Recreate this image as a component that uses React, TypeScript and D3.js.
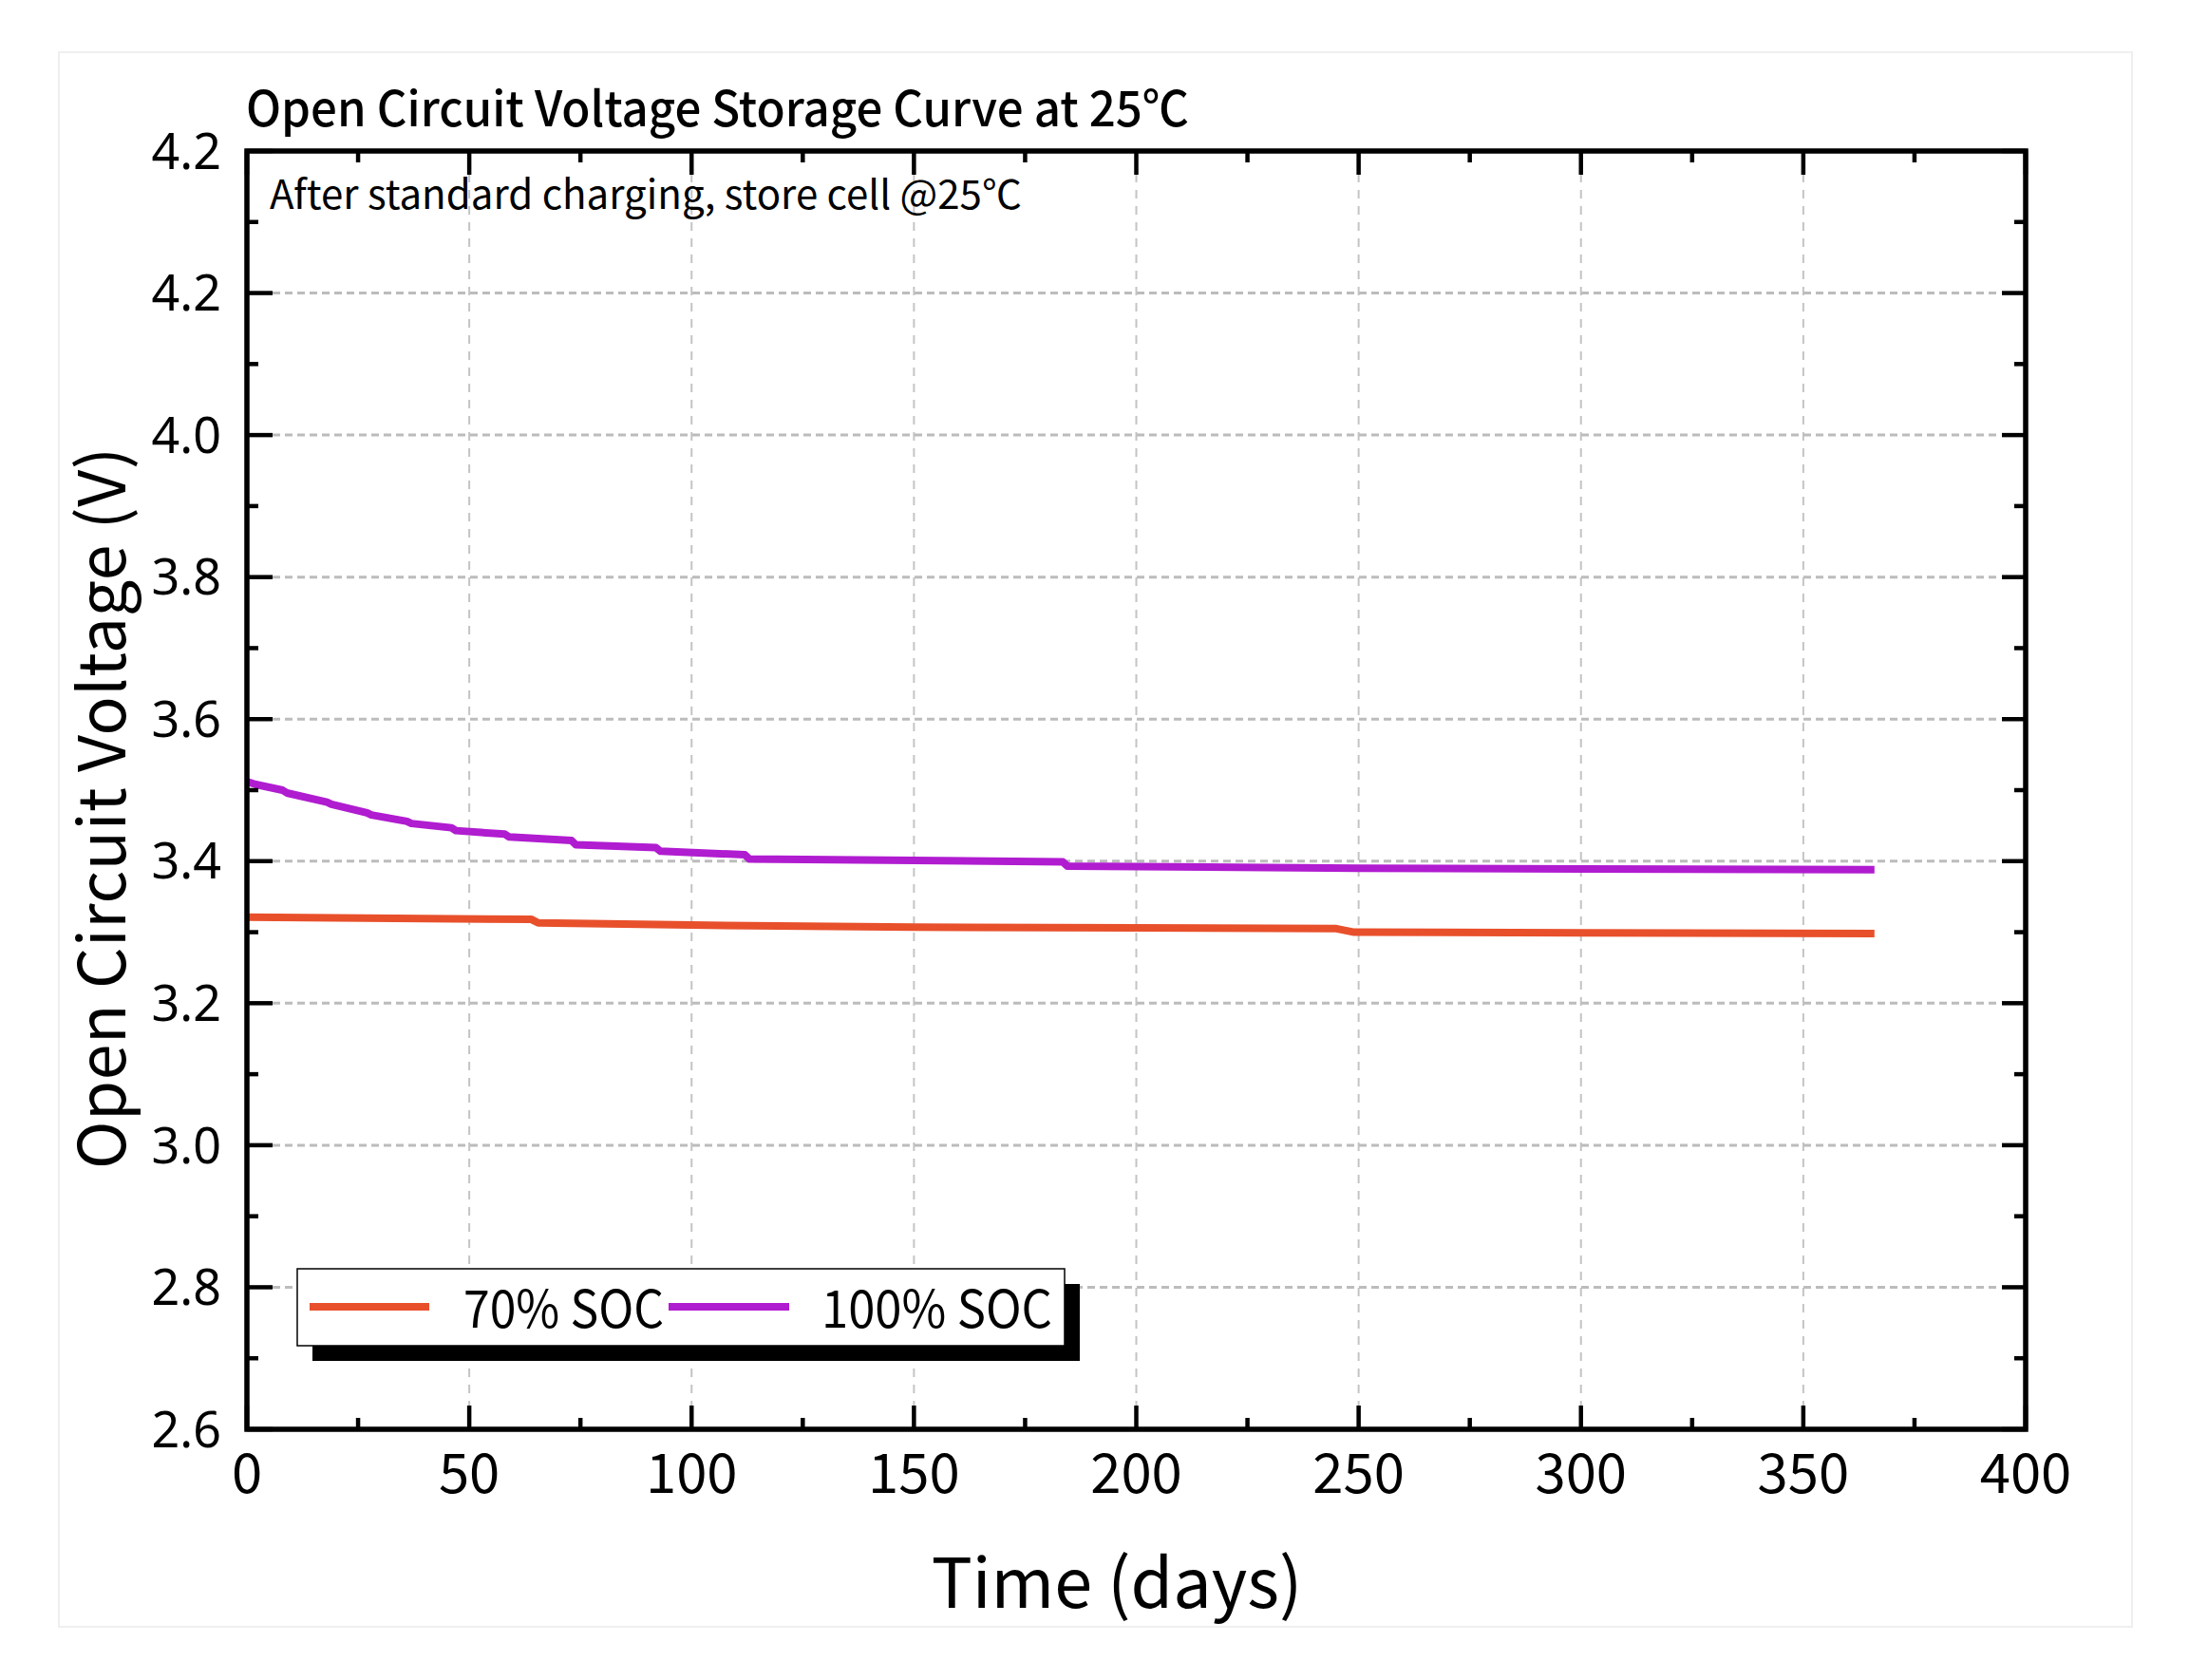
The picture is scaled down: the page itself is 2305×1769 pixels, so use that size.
import React from 'react';
import * as d3 from 'd3';

// Storage days and measured open circuit voltage for each state of charge
const days70 = [0, 20, 40, 64, 65.5, 100, 150, 200, 245, 249, 300, 366];
const ocv70 = [3.321, 3.320, 3.319, 3.318, 3.313, 3.310, 3.307, 3.306, 3.305, 3.300, 3.299, 3.298];

const days100 = [0, 2, 8, 9, 18, 19, 27, 28, 36, 37, 46, 47, 58, 59, 73, 74, 92, 93, 112, 113, 150, 183.5, 184.5, 250, 300, 366];
const ocv100 = [3.512, 3.508, 3.500, 3.496, 3.483, 3.480, 3.468, 3.465, 3.456, 3.453, 3.447, 3.443, 3.438, 3.434, 3.429, 3.423, 3.419, 3.414, 3.409, 3.403, 3.401, 3.399, 3.393, 3.390, 3.389, 3.388];

const seriesNames = ['70% SOC', '100% SOC'];
const seriesColors = ['#e8502c', '#b01cd0'];

const xTicks = [0, 50, 100, 150, 200, 250, 300, 350, 400];
const xMinorTicks = [25, 75, 125, 175, 225, 275, 325, 375];
const yTicks = [2.6, 2.8, 3.0, 3.2, 3.4, 3.6, 3.8, 4.0, 4.2, 4.4];
const yTickLabels = ['2.6', '2.8', '3.0', '3.2', '3.4', '3.6', '3.8', '4.0', '4.2', '4.2'];
const yMinorTicks = [2.7, 2.9, 3.1, 3.3, 3.5, 3.7, 3.9, 4.1, 4.3];

const W = 2305;
const H = 1769;
const left = 260;
const right = 2133;
const top = 159;
const bottom = 1505;

const condensed = '"Noto Sans CJK SC", "Noto Sans", sans-serif';
const wide = '"Noto Sans", "Noto Sans CJK SC", sans-serif';

export default function App() {
  const x = d3.scaleLinear().domain([0, 400]).range([left, right]);
  const y = d3.scaleLinear().domain([2.6, 4.4]).range([bottom, top]);

  const line = d3.line<[number, number]>()
    .x(d => x(d[0]))
    .y(d => y(d[1]));

  const series = [
    days70.map((d, i) => [d, ocv70[i]] as [number, number]),
    days100.map((d, i) => [d, ocv100[i]] as [number, number]),
  ];

  const major = 25;
  const minor = 12;

  // legend geometry
  const lg = { x: 313, y: 1336, w: 808, h: 81, shadow: 16 };
  const legendItems = [
    { x0: 326, x1: 452, tx: 488, tw: 211 },
    { x0: 704, x1: 831, tx: 865, tw: 243 },
  ];

  return (
    <svg width={W} height={H} style={{ position: 'absolute', left: 0, top: 0, display: 'block', background: '#fff' }}>
      <rect x={62} y={55} width={2183} height={1658} fill="none" stroke="#efefef" strokeWidth={2} />

      {/* grid */}
      {xTicks.slice(1, -1).map(t => (
        <line key={'gx' + t} x1={x(t)} x2={x(t)} y1={top + 24} y2={bottom - 24}
          stroke="#c4c4c4" strokeWidth={2} strokeDasharray="9 8" />
      ))}
      {yTicks.slice(1, -1).map(t => (
        <line key={'gy' + t} x1={left + 27} x2={right - 27} y1={y(t)} y2={y(t)}
          stroke="#bcbcbc" strokeWidth={3} strokeDasharray="8 5" />
      ))}

      {/* data */}
      {series.map((s, i) => (
        <path key={seriesNames[i]} d={line(s) || ''} fill="none" stroke={seriesColors[i]}
          strokeWidth={8} strokeLinejoin="round" />
      ))}

      {/* ticks, all pointing inward */}
      <g stroke="#000" strokeWidth={4.5}>
        {xTicks.map(t => (
          <g key={'tx' + t}>
            <line x1={x(t)} x2={x(t)} y1={bottom} y2={bottom - major} />
            <line x1={x(t)} x2={x(t)} y1={top} y2={top + major} />
          </g>
        ))}
        {xMinorTicks.map(t => (
          <g key={'mx' + t}>
            <line x1={x(t)} x2={x(t)} y1={bottom} y2={bottom - minor} />
            <line x1={x(t)} x2={x(t)} y1={top} y2={top + minor} />
          </g>
        ))}
        {yTicks.map(t => (
          <g key={'ty' + t}>
            <line x1={left} x2={left + major + 2} y1={y(t)} y2={y(t)} />
            <line x1={right} x2={right - major} y1={y(t)} y2={y(t)} />
          </g>
        ))}
        {yMinorTicks.map(t => (
          <g key={'my' + t}>
            <line x1={left} x2={left + minor} y1={y(t)} y2={y(t)} />
            <line x1={right} x2={right - minor} y1={y(t)} y2={y(t)} />
          </g>
        ))}
      </g>

      <rect x={left} y={top} width={right - left} height={bottom - top} fill="none" stroke="#000" strokeWidth={5.5} />

      {/* tick labels */}
      {yTicks.map((t, i) => (
        <text key={'ly' + t} x={233} y={y(t)} dy="0.36em" textAnchor="end"
          fontFamily={wide} fontSize={52} fill="#000">{yTickLabels[i]}</text>
      ))}
      {xTicks.map(t => (
        <text key={'lx' + t} x={x(t)} y={1572} textAnchor="middle"
          fontFamily={condensed} fontSize={58} fill="#000">{t}</text>
      ))}

      {/* titles */}
      <text x={259} y={133} fontFamily={condensed} fontSize={51} fontWeight={500} fill="#000"
        textLength={993} lengthAdjust="spacingAndGlyphs">Open Circuit Voltage Storage Curve at 25℃</text>
      <text x={284} y={220} fontFamily={condensed} fontSize={42} fill="#000">After standard charging, store cell @25℃</text>
      <text x={1176} y={1693} textAnchor="middle" fontFamily={condensed} fontSize={72} fill="#000">Time (days)</text>
      <text transform="translate(132,851) rotate(-90)" textAnchor="middle" fontFamily={condensed} fontSize={68} fill="#000"
        textLength={760} lengthAdjust="spacing">Open Circuit Voltage (V)</text>

      {/* legend */}
      <rect x={lg.x + lg.shadow} y={lg.y + lg.shadow} width={lg.w} height={lg.h} fill="#000" />
      <rect x={lg.x} y={lg.y} width={lg.w} height={lg.h} fill="#fff" stroke="#000" strokeWidth={1.5} />
      {legendItems.map((it, i) => (
        <g key={'lg' + i}>
          <line x1={it.x0} x2={it.x1} y1={1376} y2={1376} stroke={seriesColors[i]} strokeWidth={8} />
          <text x={it.tx} y={1398} fontFamily={condensed} fontSize={54} fill="#000"
            textLength={it.tw} lengthAdjust="spacingAndGlyphs">{seriesNames[i]}</text>
        </g>
      ))}
    </svg>
  );
}
